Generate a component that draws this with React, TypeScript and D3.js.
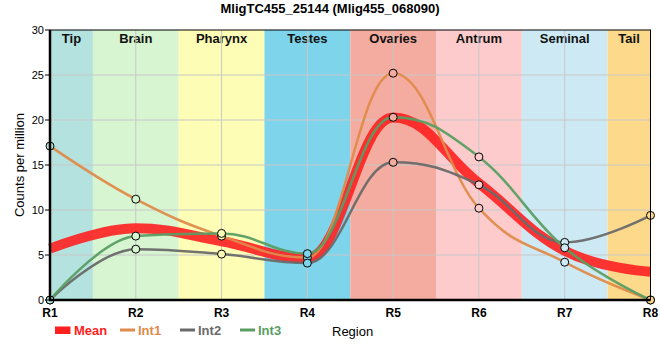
import React from "react";
import * as d3 from "d3";

const regions = ["R1", "R2", "R3", "R4", "R5", "R6", "R7", "R8"];
const int1 = [17.1, 11.2, 7.1, 4.7, 25.2, 10.2, 4.2, 0];
const int2 = [0, 5.65, 5.1, 4.1, 15.3, 12.8, 6.4, 9.4];
const int3 = [0, 7.1, 7.4, 5.15, 20.3, 15.9, 5.8, 0];
const meanVals = regions.map((_, i) => (int1[i] + int2[i] + int3[i]) / 3);
const yTicks = [0, 5, 10, 15, 20, 25, 30];
const bandNames = ["Tip", "Brain", "Pharynx", "Testes", "Ovaries", "Antrum", "Seminal", "Tail"];
const bandColors = ["#b4e2de", "#d7f5d1", "#fefdb6", "#7ed4eb", "#f5aca0", "#fdcbcc", "#cdeaf4", "#fdd98b"];
const seriesNames = ["Int1", "Int2", "Int3"];
const seriesColors = ["#df8b4b", "#6a6a6a", "#5a9e63"];
const meanColor = "#ff2020";

const W = 660, H = 360;
const L = 50, R = 650.5, T = 30, B = 300;
const font = "Arial, 'Liberation Sans', sans-serif";

// Spline with horizontal control offsets (smoothing 1.5) and overshoot clamping
function splinePath(pts: [number, number][]): string {
  const p = d3.path();
  const sm = 1.5, den = sm + 1;
  const right: ([number, number] | null)[] = pts.map(() => null);
  const left: ([number, number] | null)[] = pts.map(() => null);
  for (let i = 1; i < pts.length - 1; i++) {
    const [px, py] = pts[i];
    const [lx, ly] = pts[i - 1];
    const [nx, ny] = pts[i + 1];
    const lcx = (sm * px + lx) / den;
    let lcy = (sm * py + ly) / den;
    const rcx = (sm * px + nx) / den;
    let rcy = (sm * py + ny) / den;
    let corr = 0;
    if (rcx !== lcx) corr = ((rcy - lcy) * (rcx - px)) / (rcx - lcx) + py - rcy;
    lcy += corr;
    rcy += corr;
    if (lcy > ly && lcy > py) {
      lcy = Math.max(ly, py);
      rcy = 2 * py - lcy;
    } else if (lcy < ly && lcy < py) {
      lcy = Math.min(ly, py);
      rcy = 2 * py - lcy;
    }
    if (rcy > ny && rcy > py) {
      rcy = Math.max(ny, py);
      lcy = 2 * py - rcy;
    } else if (rcy < ny && rcy < py) {
      rcy = Math.min(ny, py);
      lcy = 2 * py - rcy;
    }
    left[i] = [lcx, lcy];
    right[i] = [rcx, rcy];
  }
  p.moveTo(pts[0][0], pts[0][1]);
  for (let i = 1; i < pts.length; i++) {
    const c1 = right[i - 1] || pts[i - 1];
    const c2 = left[i] || pts[i];
    p.bezierCurveTo(c1[0], c1[1], c2[0], c2[1], pts[i][0], pts[i][1]);
  }
  return p.toString();
}

export default function App() {
  const x = d3.scalePoint<string>().domain(regions).range([L, R]);
  const y = d3.scaleLinear().domain([0, 30]).range([B, T]);
  const step = x.step();
  const toPts = (s: number[]) => s.map((v, i) => [x(regions[i]) as number, y(v)] as [number, number]);
  const allSeries = [int1, int2, int3];

  return (
    <svg width={W} height={H} style={{ position: "absolute", left: 0, top: 0, fontFamily: font }}>
      <rect x={0} y={0} width={W} height={H} fill="#fff" />
      {bandNames.map((n, i) => {
        const cx = x(regions[i]) as number;
        const x0 = Math.max(L, cx - step / 2);
        const x1 = Math.min(R, cx + step / 2);
        return (
          <g key={n}>
            <rect x={x0} y={T} width={x1 - x0} height={B - T} fill={bandColors[i]} />
            <text x={(x0 + x1) / 2} y={T + 13} textAnchor="middle" fontSize={13} fontWeight="bold" fill="#111">
              {n}
            </text>
          </g>
        );
      })}
      {yTicks.slice(1, -1).map((t) => (
        <line key={t} x1={L} x2={R} y1={y(t)} y2={y(t)} stroke="#c8c8c8" strokeWidth={1} />
      ))}
      {regions.slice(1, -1).map((r) => (
        <line key={r} x1={x(r)} x2={x(r)} y1={T} y2={B} stroke="#c8c8c8" strokeWidth={1} />
      ))}
      <path d={splinePath(toPts(meanVals))} fill="none" stroke={meanColor} strokeWidth={10} strokeOpacity={0.9} strokeLinejoin="round" />
      {allSeries.map((s, k) => (
        <path key={k} d={splinePath(toPts(s))} fill="none" stroke={seriesColors[k]} strokeWidth={2.5} strokeOpacity={0.95} />
      ))}
      {allSeries.map((s, k) =>
        s.map((v, i) => (
          <circle key={k + "-" + i} cx={x(regions[i])} cy={y(v)} r={4} fill={bandColors[i]} stroke="#000" strokeWidth={1} />
        ))
      )}
      <rect x={L} y={T} width={R - L} height={B - T} fill="none" stroke="#000" strokeWidth={1} />
      <line x1={L} x2={L} y1={T} y2={B + 1} stroke="#000" strokeWidth={2.5} />
      <line x1={L - 1} x2={R} y1={B} y2={B} stroke="#000" strokeWidth={2.5} />
      {yTicks.map((t) => (
        <g key={t}>
          <line x1={L - 5} x2={L} y1={y(t)} y2={y(t)} stroke="#000" strokeWidth={1} />
          <text x={L - 6} y={y(t) + 4} textAnchor="end" fontSize={11} fill="#000">
            {t}
          </text>
        </g>
      ))}
      {regions.map((r) => (
        <text key={r} x={x(r)} y={317} textAnchor="middle" fontSize={12} fontWeight="bold" fill="#000">
          {r}
        </text>
      ))}
      <text x={330} y={13} textAnchor="middle" fontSize={13} fontWeight="bold" fill="#000">
        MligTC455_25144 (Mlig455_068090)
      </text>
      <text transform={`translate(24,165) rotate(-90)`} textAnchor="middle" fontSize={13} fill="#000">
        Counts per million
      </text>
      <g>
        <rect x={55} y={326.5} width={15.5} height={7.5} fill={meanColor} />
        <text x={74} y={335} fontSize={13} fontWeight="bold" fill={meanColor}>Mean</text>
        {seriesNames.map((n, k) => (
          <g key={n}>
            <line x1={120 + k * 60} x2={135 + k * 60} y1={330} y2={330} stroke={seriesColors[k]} strokeWidth={3} />
            <text x={138 + k * 60} y={335} fontSize={13} fontWeight="bold" fill={seriesColors[k]}>{n}</text>
          </g>
        ))}
        <text x={332} y={336} fontSize={13} fill="#000">Region</text>
      </g>
    </svg>
  );
}
